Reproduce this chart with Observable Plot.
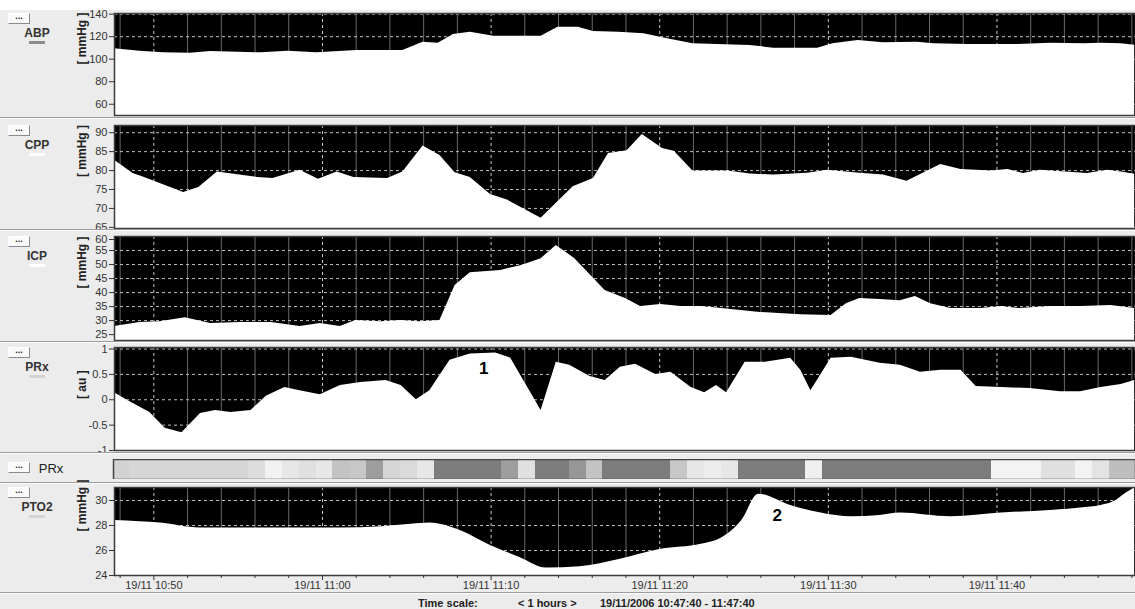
<!DOCTYPE html>
<html><head><meta charset="utf-8">
<script src="https://cdn.jsdelivr.net/npm/d3@7"></script>
<script src="https://cdn.jsdelivr.net/npm/@observablehq/plot@0.6"></script>
<style>
html,body{margin:0;padding:0;background:#fff;}
#root{position:relative;width:1135px;height:609px;background:#ececec;overflow:hidden;font-family:"Liberation Sans",Arial,sans-serif;}
.panel{position:absolute;left:0;}
.btn{position:absolute;left:8px;width:20px;height:9px;background:#fafafa;border:1px solid;border-color:#fff #8a8a8a #8a8a8a #fff;font-size:9px;line-height:5px;text-align:center;font-weight:bold;color:#222;}
.lab{position:absolute;font-size:12px;font-weight:bold;color:#333;transform:translate(-50%,-50%);white-space:nowrap;}
.sw{position:absolute;height:3px;width:16px;}
.sep{position:absolute;left:0;width:1135px;height:4px;background:#ececec;border-top:1px solid #9c9c9c;box-sizing:border-box;}
.sep::after{content:"";position:absolute;left:0;right:0;top:0;height:1px;background:#fcfcfc;}
.foot{position:absolute;top:597px;font-size:11px;font-weight:bold;color:#222;white-space:nowrap;}
</style></head><body><div id="root"></div><script>
// ---- data: [minutes after 19/11/2006 10:47:40, value] ----
const abp = [[0,109.2],[1.5,107.1],[2.9,105.7],[4.5,105.3],[5.7,106.8],[8.7,105.7],[10.3,107],[12.0,105.7],[14.4,107.7],[17.1,107.7],[18.3,115],[19.2,114.2],[20.1,122],[21.1,124],[22.5,120.4],[25.3,120.4],[26.3,128.4],[27.5,128.4],[28.4,124.6],[29.9,124],[31.4,122.6],[32.8,118.1],[34.3,113.7],[37.7,112.2],[39.1,109.8],[41.7,109.8],[42.6,113.7],[44.1,116.6],[45.6,114.6],[47.6,115.1],[48.6,113.7],[50.6,113.1],[53.6,113.1],[55.5,114.2],[57.5,113.7],[58.5,114.2],[59.7,113.7],[60.5,112.5]];
const cpp = [[0,82.7],[1.1,79.2],[1.7,78.3],[4.1,74.2],[5.0,75.5],[6.1,79.6],[8.5,78.2],[9.4,77.9],[11.0,80.1],[12.1,77.7],[13.2,79.6],[14.2,78.2],[16.2,77.9],[17.1,79.6],[18.3,86.5],[19.3,84],[20.2,79.4],[21.1,78.2],[22.3,73.7],[23.3,72.2],[25.3,67.4],[27.2,75.7],[28.4,77.9],[29.3,84.5],[30.4,85.2],[31.3,89.5],[32.5,85.8],[33.2,85.1],[34.3,79.9],[36.4,79.9],[37.7,79.1],[39.1,78.8],[41.1,79.3],[42.3,80.1],[44.2,79.3],[45.6,78.8],[47.0,77.2],[49.0,81.6],[50.2,80.3],[52.0,79.9],[53.0,80.3],[53.9,79.2],[54.9,80.1],[57.7,79.2],[58.9,80.1],[59.7,79.6],[60.5,79]];
const icp = [[0,27.9],[1.5,29.3],[2.7,29.6],[4.2,31],[5.7,29],[7.5,29.3],[9.3,29.3],[11.0,27.9],[12.2,29],[13.4,27.9],[14.3,30],[15.8,29.6],[17.0,30],[18.1,29.6],[19.3,30],[20.2,42.5],[21.1,47.1],[22.9,47.9],[24.1,49.6],[25.3,52.1],[26.2,56.8],[27.3,52.1],[29.1,40.7],[30.3,37.9],[31.2,35],[32.4,35.7],[33.6,35],[34.8,35],[36.0,34.3],[38.3,32.9],[40.7,32.1],[42.5,31.8],[43.4,36],[44.2,37.9],[45.4,37.5],[46.6,37.1],[47.5,38.6],[48.4,36],[49.6,34.3],[51.4,34.3],[52.6,35],[53.7,34.3],[55.5,35],[57.3,35],[59.1,35.4],[60.5,34.3]];
const prx = [[0,0.14],[0.7,0],[2.1,-0.25],[3.0,-0.56],[4.0,-0.65],[5.1,-0.27],[6.0,-0.21],[6.9,-0.25],[8.1,-0.21],[9.0,0.07],[10.1,0.24],[11.0,0.18],[12.2,0.1],[13.4,0.28],[14.6,0.34],[16.1,0.38],[17.0,0.28],[17.9,0],[18.7,0.18],[19.9,0.78],[21.1,0.9],[22.6,0.92],[23.5,0.82],[25.3,-0.21],[26.2,0.74],[27.0,0.68],[28.2,0.46],[29.1,0.38],[30.0,0.64],[30.9,0.7],[32.1,0.5],[33.0,0.54],[34.2,0.24],[35.0,0.14],[35.7,0.28],[36.3,0.14],[37.4,0.74],[38.6,0.74],[40.1,0.82],[40.7,0.58],[41.3,0.18],[42.5,0.82],[43.7,0.84],[45.4,0.72],[46.6,0.68],[47.8,0.54],[49.0,0.58],[50.2,0.58],[51.1,0.26],[52.6,0.24],[54.3,0.22],[56.1,0.16],[57.3,0.16],[58.5,0.24],[59.7,0.3],[60.5,0.38]];
const pto2 = [[0,28.4],[1.5,28.3],[2.7,28.2],[5.1,27.8],[7.5,27.8],[11.0,27.8],[13.4,27.8],[15.8,27.9],[17.6,28.1],[18.7,28.2],[20.5,27.6],[22.3,26.4],[24.1,25.4],[25.6,24.6],[27.6,24.7],[30.0,25.3],[32.4,26.1],[34.8,26.5],[36.0,27],[37.2,28.4],[38.2,30.5],[40.1,29.6],[41.9,29],[43.7,28.7],[45.4,28.8],[46.6,29],[49.6,28.7],[52.6,29],[55.5,29.2],[57.3,29.4],[58.5,29.6],[59.4,30],[60.0,30.6],[60.5,31]];
// PRx colour bar, one cell per minute: shade index (0 = white, 1 = darkest)
const prxBar = [0.34,0.31,0.31,0.31,0.31,0.31,0.31,0.31,0.26,0.10,0.18,0.24,0.18,0.46,0.43,0.75,0.31,0.28,0.18,1,1,1,1,0.75,0.24,1,1,0.80,0.46,1,1,1,1,0.43,0.18,0.14,0.18,1,1,1,1,0.12,1,1,1,1,1,1,1,1,1,1,0.09,0.09,0.09,0.24,0.24,0.09,0.21,0.5,0.5];
// annotations [minute, value, text]
const prxNotes = [[21.9,0.62,"1"]];
const pto2Notes = [[39.3,28.8,"2"]];
// tick values (the top one of a panel is partly hidden under the separator)
const abpTicks = [60,80,100,120,140];
const cppTicks = [65,70,75,80,85,90];
const icpTicks = [25,30,35,40,45,50,55,60];
const prxTicks = [-1,-0.5,0,0.5,1];
const pto2Ticks = [24,26,28,30];
const footerParts = ["Time scale:", "< 1 hours >", "19/11/2006 10:47:40 - 11:47:40"];

// ---- build ----
const t0 = new Date(2006,10,19,10,47,40);
const toDate = m => new Date(+t0 + m*60000);
const xDomain = [t0, toDate(60.55)];
const majorDates = d3.timeMinute.every(10).range(t0, xDomain[1]);
const minorDates = d3.timeMinute.every(2).range(t0, xDomain[1]).filter(d => d.getMinutes() % 10 !== 0);
const fmtTime = d3.timeFormat("%d/%m %H:%M");
const FONT = "Liberation Sans, Arial, sans-serif";
const root = document.getElementById("root");

const panels = [
  {name:"ABP", unit:"[ mmHg ]", data:abp, top:13, bottom:115, domain:[50,140.6], ticks:abpTicks, sw:"#8c8c8c"},
  {name:"CPP", unit:"[ mmHg ]", data:cpp, top:125, bottom:228, domain:[64.7,91.9], ticks:cppTicks, sw:"#ffffff"},
  {name:"ICP", unit:"[ mmHg ]", data:icp, top:236, bottom:340, domain:[22.9,60], ticks:icpTicks, sw:"#ffffff", topShift:3},
  {name:"PRx", unit:"[ au ]", data:prx, top:347, bottom:450, domain:[-1,1.03], ticks:prxTicks, sw:"#d4d4d4", notes:prxNotes},
  {name:"PTO2", unit:"[ mmHg ]", data:pto2, top:487, bottom:575, domain:[24,31.04], ticks:pto2Ticks, sw:"#d4d4d4", notes:pto2Notes, curve:"monotone-x", last:true}
];

function add(html){ root.insertAdjacentHTML("beforeend", html); }

for (const p of panels) {
  const h = p.bottom - p.top;
  const mb = p.last ? 18 : 0;
  const data = p.data.map(([m,v]) => ({t: toDate(m), v}));
  const gridY = p.ticks.filter(v => v > p.domain[0] + 1e-9 && v < p.domain[1] - 1e-9);
  const shifted = p.topShift ? [p.ticks[p.ticks.length - 1]] : [];
  const normal = p.ticks.filter(v => !shifted.includes(v));
  const marks = [
    Plot.frame({fill:"black"}),
    Plot.ruleX(minorDates, {stroke:"#6a6a6a", strokeWidth:1}),
    Plot.ruleX(majorDates, {stroke:"#c8c8c8", strokeDasharray:"3,3"}),
    Plot.ruleY(gridY, {stroke:"#c0c0c0", strokeDasharray:"3,3"}),
    Plot.areaY(data, {x:"t", y1:p.domain[0], y2:"v", fill:"white", curve:p.curve || "linear"}),
    Plot.frame({stroke:"#3c3c3c", strokeWidth:1.5}),
    Plot.axisY({ticks:normal, tickSize:5, tickPadding:2, tickFormat:d => String(d), color:"#333", fontSize:11}),
    Plot.text([p.unit], {frameAnchor:"left", dx:-32, rotate:-90, fontWeight:"bold", fontSize:12, fill:"#222"})
  ];
  if (shifted.length) {
    marks.push(Plot.axisY({ticks:shifted, tickSize:5, tickPadding:2, tickFormat:d => String(d), color:"#333", fontSize:11, textAnchor:"end", dy:p.topShift}));
  }
  if (p.notes) marks.push(Plot.text(p.notes, {x:d => toDate(d[0]), y:d => d[1], text:d => d[2], fontWeight:"bold", fontSize:17, fill:"black"}));
  if (p.last) {
    marks.push(Plot.axisX(minorDates, {tickSize:3, tickFormat:() => "", color:"#333"}));
    marks.push(Plot.axisX(majorDates, {tickSize:5, tickPadding:1, tickFormat:fmtTime, color:"#333", fontSize:11}));
  }
  const chart = Plot.plot({
    width:1135, height:h + mb, marginLeft:114, marginRight:0, marginTop:0, marginBottom:mb,
    style:{background:"transparent", fontFamily:FONT, fontSize:"11px", overflow:"visible"},
    x:{type:"time", domain:xDomain, label:null, ...(p.last ? {} : {axis:null})},
    y:{domain:p.domain, label:null},
    marks
  });
  const div = document.createElement("div");
  div.className = "panel";
  div.style.top = p.top + "px";
  div.appendChild(chart);
  root.appendChild(div);
  add(`<div class="btn" style="top:${p.top}px">...</div>`);
  add(`<div class="lab" style="left:37px;top:${p.top + 20}px">${p.name}</div>`);
  add(`<div class="sw" style="left:29px;top:${p.top + 28}px;background:${p.sw}"></div>`);
}

// PRx colour bar
{
  const barData = prxBar.map((d,i) => ({t1: toDate(i), t2: toDate(Math.min(i + 1, 60.55)), d}));
  const chart = Plot.plot({
    width:1135, height:20, marginLeft:113, marginRight:0, marginTop:0, marginBottom:0,
    style:{background:"transparent", fontFamily:FONT},
    x:{type:"time", domain:xDomain, axis:null},
    y:{domain:[0,1], axis:null},
    color:{type:"linear", domain:[0,1], range:["#ffffff","#7c7c7c"]},
    marks:[
      Plot.rect(barData, {x1:"t1", x2:"t2", y1:0, y2:1, fill:"d", shapeRendering:"crispEdges"}),
      Plot.frame({stroke:"#444", strokeWidth:1.5})
    ]
  });
  const div = document.createElement("div");
  div.className = "panel";
  div.style.top = "459px";
  div.appendChild(chart);
  root.appendChild(div);
  add(`<div class="btn" style="top:462px">...</div>`);
  add(`<div class="lab" style="left:51px;top:468px;font-weight:normal;font-size:13px;color:#222">PRx</div>`);
}

// separators (drawn over panel edges)
for (const y of [117, 229, 341, 452, 482, 592]) {
  add(`<div class="sep" style="top:${y}px"></div>`);
}
// top white strip
add(`<div style="position:absolute;left:0;top:0;width:1135px;height:10px;background:#fff"></div>`);
// footer
add(`<div class="foot" style="left:418px">${footerParts[0]}</div>`);
add(`<div class="foot" style="left:518px">${footerParts[1].replace(/</g,"&lt;").replace(/>/g,"&gt;")}</div>`);
add(`<div class="foot" style="left:600px">${footerParts[2]}</div>`);
</script></body></html>
